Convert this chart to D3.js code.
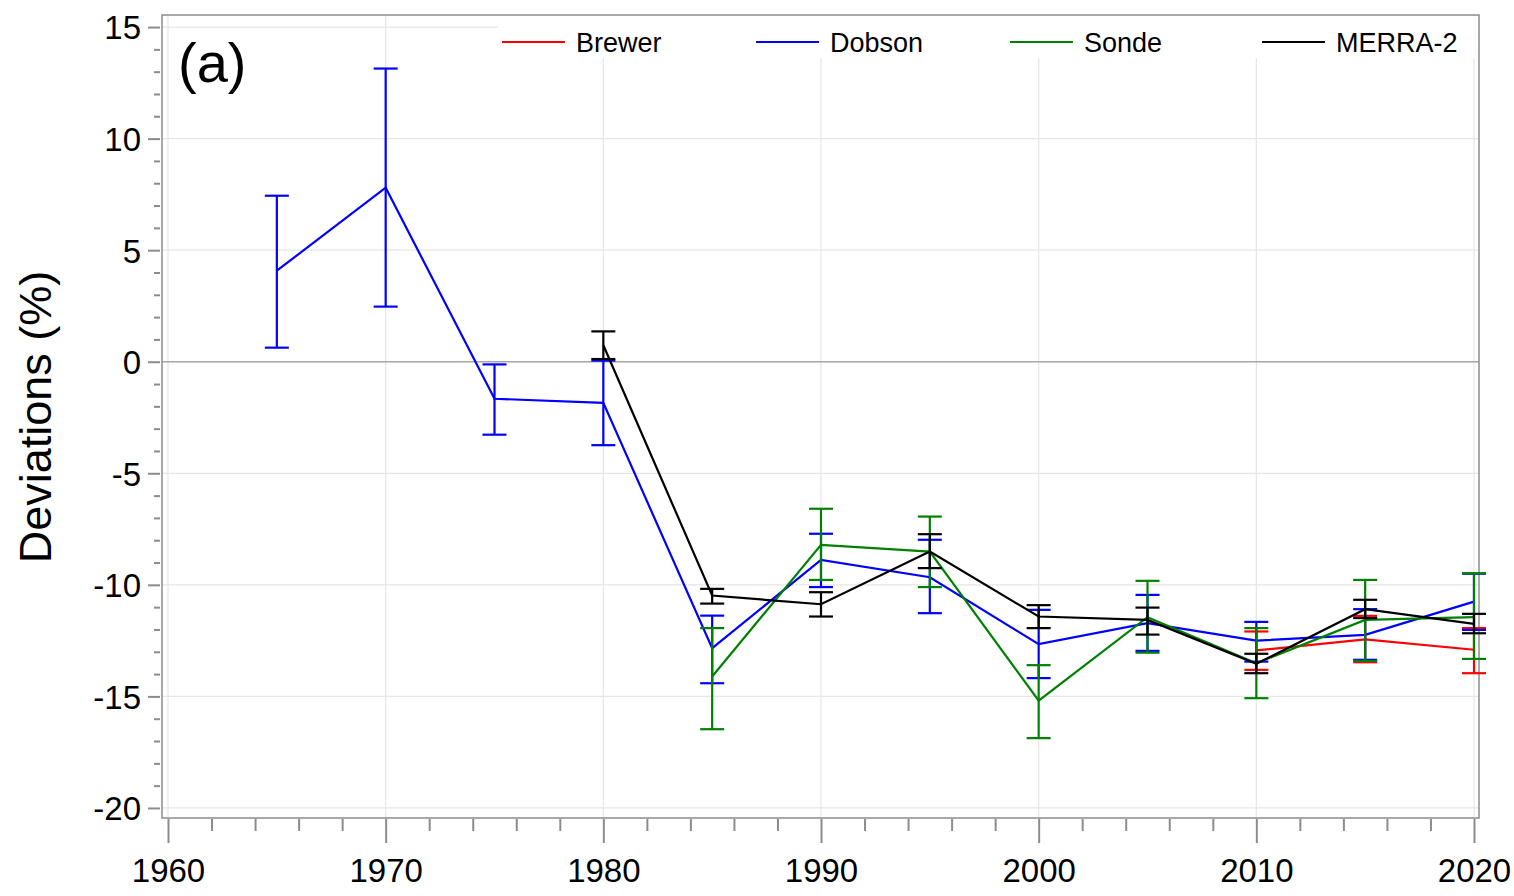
<!DOCTYPE html>
<html>
<head>
<meta charset="utf-8">
<script src="https://cdn.jsdelivr.net/npm/d3@7"></script>
<style>
  body { margin: 0; background: #fff; }
  svg text { font-family: "Liberation Sans", Arial, sans-serif; }
</style>
</head>
<body>
<div id="chart"></div>
<script>
// values, one entry per year (null = no data)
var years = [1965, 1970, 1975, 1980, 1985, 1990, 1995, 2000, 2005, 2010, 2015, 2020];

var brewerMean = [null, null, null, null, null, null, null, null, null, -12.94, -12.44, -12.91];
var brewerLow  = [null, null, null, null, null, null, null, null, null, -13.81, -13.47, -13.96];
var brewerHigh = [null, null, null, null, null, null, null, null, null, -12.09, -11.39, -11.94];

var dobsonMean = [4.08, 7.80, -1.66, -1.84, -12.84, -8.88, -9.66, -12.66, -11.72, -12.50, -12.24, -10.75];
var dobsonLow  = [0.63, 2.47, -3.27, -3.74, -14.41, -10.10, -11.27, -14.18, -12.96, -13.44, -13.36, -12.02];
var dobsonHigh = [7.44, 13.14, -0.12, 0.05, -11.38, -7.71, -7.98, -11.12, -10.45, -11.66, -11.09, -9.50];

var sondeMean = [null, null, null, null, -14.11, -8.21, -8.51, -15.19, -11.45, -13.51, -11.57, -11.45];
var sondeLow  = [null, null, null, null, -16.47, -9.78, -10.10, -16.87, -13.04, -15.08, -13.41, -13.32];
var sondeHigh = [null, null, null, null, -11.94, -6.59, -6.94, -13.60, -9.82, -11.94, -9.78, -9.48];

var merraMean = [null, null, null, 0.74, -10.48, -10.87, -8.51, -11.42, -11.57, -13.54, -11.09, -11.75];
var merraLow  = [null, null, null, 0.12, -10.84, -11.42, -9.25, -11.94, -12.23, -13.96, -11.49, -12.17];
var merraHigh = [null, null, null, 1.36, -10.18, -10.33, -7.73, -10.91, -11.02, -13.09, -10.67, -11.30];

var seriesNames = ["Brewer", "Dobson", "Sonde", "MERRA-2"];
var seriesColors = ["#ff0000", "#0000ff", "#008000", "#000000"];

var xMajor = [1960, 1970, 1980, 1990, 2000, 2010, 2020];
var yMajor = [15, 10, 5, 0, -5, -10, -15, -20];

// Boilerplate
var W = 1514, H = 896;
var box = { left: 162, right: 1479, top: 15, bottom: 818 };

var x = d3.scaleLinear().domain([1959.724, 2020.23]).range([box.left, box.right]);
var y = d3.scaleLinear().domain([15.54, -20.45]).range([box.top, box.bottom]);

var svg = d3.select("#chart").append("svg")
  .attr("width", W).attr("height", H);

// plain hyphen for negatives, like the original
var fmt = d => String(d);

// gridlines
svg.append("g").selectAll("line.gx")
  .data(xMajor).enter().append("line")
  .attr("x1", d => x(d)).attr("x2", d => x(d))
  .attr("y1", box.top).attr("y2", box.bottom)
  .attr("stroke", "#e6e6e6").attr("stroke-width", 1.2);

svg.append("g").selectAll("line.gy")
  .data(yMajor).enter().append("line")
  .attr("x1", box.left).attr("x2", box.right)
  .attr("y1", d => y(d)).attr("y2", d => y(d))
  .attr("stroke", d => d === 0 ? "#a6a6a6" : "#e6e6e6")
  .attr("stroke-width", d => d === 0 ? 1.5 : 1.2);

// plot box
svg.append("rect")
  .attr("x", box.left).attr("y", box.top)
  .attr("width", box.right - box.left).attr("height", box.bottom - box.top)
  .attr("fill", "none").attr("stroke", "#8c8c8c").attr("stroke-width", 1.5);

// axes
var xMinor = d3.range(1960, 2021, 2).filter(d => d % 10 !== 0);
var yMinor = d3.range(-20, 16, 1).filter(d => d % 5 !== 0);

var xAxisMajor = svg.append("g")
  .attr("transform", "translate(0," + (box.bottom + 1) + ")")
  .call(d3.axisBottom(x).tickValues(xMajor).tickSize(24).tickPadding(14).tickFormat(fmt));
var xAxisMinor = svg.append("g")
  .attr("transform", "translate(0," + (box.bottom + 1) + ")")
  .call(d3.axisBottom(x).tickValues(xMinor).tickSize(12).tickFormat(""));

var yAxisMajor = svg.append("g")
  .attr("transform", "translate(" + (box.left - 2) + ",0)")
  .call(d3.axisLeft(y).tickValues(yMajor).tickSize(12).tickPadding(7).tickFormat(fmt));
var yAxisMinor = svg.append("g")
  .attr("transform", "translate(" + (box.left - 2) + ",0)")
  .call(d3.axisLeft(y).tickValues(yMinor).tickSize(6).tickFormat(""));

[xAxisMajor, xAxisMinor, yAxisMajor, yAxisMinor].forEach(function (g) {
  g.select(".domain").remove();
  g.selectAll(".tick line").attr("stroke", "#8c8c8c").attr("stroke-width", 2);
  g.selectAll(".tick text").attr("fill", "#000").style("font-size", "33px")
    .style("font-family", "'Liberation Sans', Arial, sans-serif");
});
yAxisMajor.selectAll(".tick text").attr("dy", "0.36em");
xAxisMajor.selectAll(".tick text").attr("dy", "0.76em");

// axis title
svg.append("text")
  .attr("transform", "translate(51,417) rotate(-90)")
  .attr("text-anchor", "middle")
  .style("font-size", "45px")
  .text("Deviations (%)");

// panel label
svg.append("text")
  .attr("x", 178).attr("y", 82)
  .style("font-size", "56px")
  .text("(a)");

// series
var allSeries = [
  { mean: brewerMean, low: brewerLow, high: brewerHigh },
  { mean: dobsonMean, low: dobsonLow, high: dobsonHigh },
  { mean: sondeMean, low: sondeLow, high: sondeHigh },
  { mean: merraMean, low: merraLow, high: merraHigh }
];

var line = d3.line()
  .defined(d => d.m !== null)
  .x(d => x(d.year))
  .y(d => y(d.m));

var capHalf = 12;

allSeries.forEach(function (s, i) {
  var pts = years.map((yr, j) => ({ year: yr, m: s.mean[j], lo: s.low[j], hi: s.high[j] }));
  var valid = pts.filter(d => d.m !== null);
  var g = svg.append("g").attr("stroke", seriesColors[i]).attr("stroke-width", 2.2).attr("fill", "none");

  g.append("path").datum(pts).attr("d", line);

  g.selectAll("line.bar").data(valid).enter().append("line")
    .attr("x1", d => x(d.year)).attr("x2", d => x(d.year))
    .attr("y1", d => y(d.lo)).attr("y2", d => y(d.hi));
  g.selectAll("line.capLo").data(valid).enter().append("line")
    .attr("x1", d => x(d.year) - capHalf).attr("x2", d => x(d.year) + capHalf)
    .attr("y1", d => y(d.lo)).attr("y2", d => y(d.lo));
  g.selectAll("line.capHi").data(valid).enter().append("line")
    .attr("x1", d => x(d.year) - capHalf).attr("x2", d => x(d.year) + capHalf)
    .attr("y1", d => y(d.hi)).attr("y2", d => y(d.hi));
});

// legend
var legend = svg.append("g");
legend.append("rect")
  .attr("x", 498).attr("y", box.top + 1)
  .attr("width", box.right - 498 - 1).attr("height", 42)
  .attr("fill", "#fff");

var legendX = [502, 756, 1010, 1262];
var items = legend.selectAll("g.item").data(seriesNames).enter().append("g")
  .attr("transform", (d, i) => "translate(" + legendX[i] + ",42)");
items.append("line")
  .attr("x1", 0).attr("x2", 63).attr("y1", 0).attr("y2", 0)
  .attr("stroke", (d, i) => seriesColors[i]).attr("stroke-width", 2);
items.append("text")
  .attr("x", 74).attr("y", 10)
  .style("font-size", "27px")
  .text(d => d);
</script>
</body>
</html>
